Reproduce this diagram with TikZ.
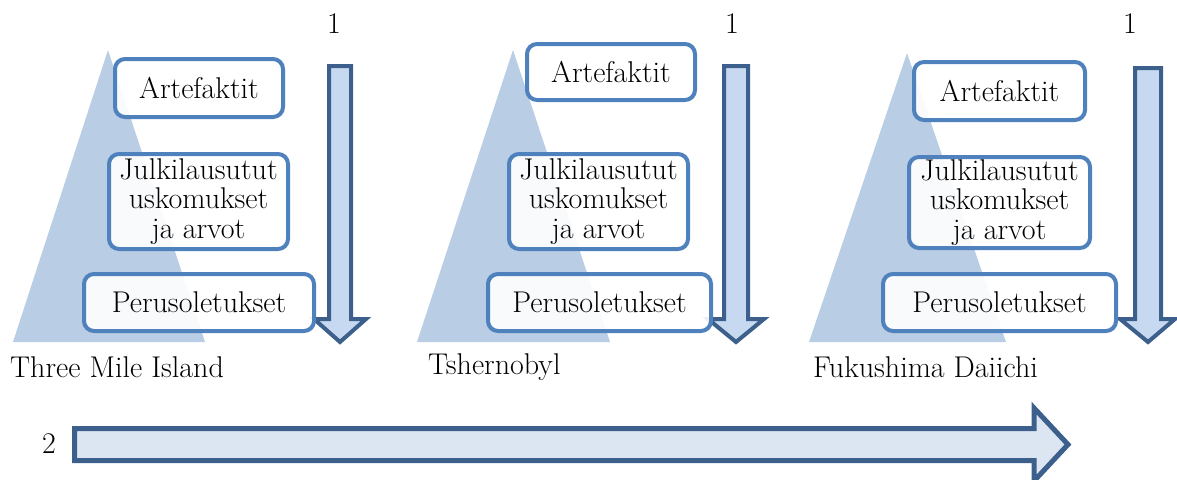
\documentclass[tikz,border=0pt]{standalone}
\usepackage{xcolor}
\definecolor{pyramid}{HTML}{B9CDE5}
\definecolor{boxline}{HTML}{4F81BD}
\definecolor{arrowline}{HTML}{3C5F8C}
\definecolor{downfill}{HTML}{C6D9F1}
\definecolor{timefill}{HTML}{DCE6F2}
\tikzset{
  layerbox/.style={draw=boxline, line width=4pt, rounded corners=10pt,
    fill=white, fill opacity=0.9, text opacity=1, align=center,
    inner sep=0pt, font=\fontsize{30}{29.5}\selectfont},
  pyramidshape/.style={fill=pyramid, draw=none},
  downarrow/.style={draw=arrowline, fill=downfill, line width=4pt, line join=miter},
  timearrow/.style={draw=arrowline, fill=timefill, line width=5pt, line join=miter},
  caption/.style={font=\fontsize{30}{30}\selectfont, inner sep=0pt},
}
\begin{document}
\begin{tikzpicture}[x=1pt, y=-1pt]
\useasboundingbox (0,0) rectangle (1177,479);

% ---- pyramids in the background ----
\fill[pyramidshape] (108,50) -- (205,342) -- (13,342) -- cycle;
\fill[pyramidshape] (513,50) -- (610,342) -- (417,342) -- cycle;
\fill[pyramidshape] (907,53) -- (1006,342) -- (809,342) -- cycle;

% ---- downward arrows (1) ----
\draw[downarrow] (329,66) -- (351,66) -- (351,319) -- (366,319) -- (340,342)
  -- (314,319) -- (329,319) -- cycle;
\draw[downarrow] (724,66) -- (748,66) -- (748,319) -- (764,319) -- (736,342)
  -- (708,319) -- (724,319) -- cycle;
\draw[downarrow] (1135,68) -- (1161,68) -- (1161,319) -- (1175,319) -- (1148,342)
  -- (1120,319) -- (1135,319) -- cycle;

\node[caption] (n1a) at (334,24) {1};
\node[caption] (n1b) at (732,24) {1};
\node[caption] (n1c) at (1130,24) {1};

% ---- culture layers: Three Mile Island ----
\node[layerbox, minimum width=168pt, minimum height=58pt] (a1) at (199,88) {Artefaktit};
\node[layerbox, minimum width=179pt, minimum height=95pt] (b1) at (198.5,201.5)
  {Julkilausutut\\uskomukset\\ja arvot};
\node[layerbox, minimum width=230pt, minimum height=57pt] (c1) at (199,302.5) {Perusoletukset};
\node[caption, anchor=west] (t1) at (10,367) {Three Mile Island};

% ---- culture layers: Tshernobyl ----
\node[layerbox, minimum width=168pt, minimum height=56pt] (a2) at (611,72) {Artefaktit};
\node[layerbox, minimum width=179pt, minimum height=95pt] (b2) at (598.5,201.5)
  {Julkilausutut\\uskomukset\\ja arvot};
\node[layerbox, minimum width=223pt, minimum height=57pt] (c2) at (599.5,302.5) {Perusoletukset};
\node[caption, anchor=west] (t2) at (428,367) {Tshernobyl};

% ---- culture layers: Fukushima Daiichi ----
\node[layerbox, minimum width=171pt, minimum height=58pt] (a3) at (999.5,91) {Artefaktit};
\node[layerbox, minimum width=181pt, minimum height=91pt] (b3) at (999.5,202.5)
  {Julkilausutut\\uskomukset\\ja arvot};
\node[layerbox, minimum width=233pt, minimum height=57pt] (c3) at (999.5,302.5) {Perusoletukset};
\node[caption, anchor=west] (t3) at (813,367) {Fukushima Daiichi};

% ---- timeline arrow (2) ----
\draw[timearrow] (74.5,428.5) -- (1034,428.5) -- (1034,408) -- (1068,444.5)
  -- (1034,481) -- (1034,460.5) -- (74.5,460.5) -- cycle;
\node[caption] (n2) at (49,444) {2};
\end{tikzpicture}
\end{document}
